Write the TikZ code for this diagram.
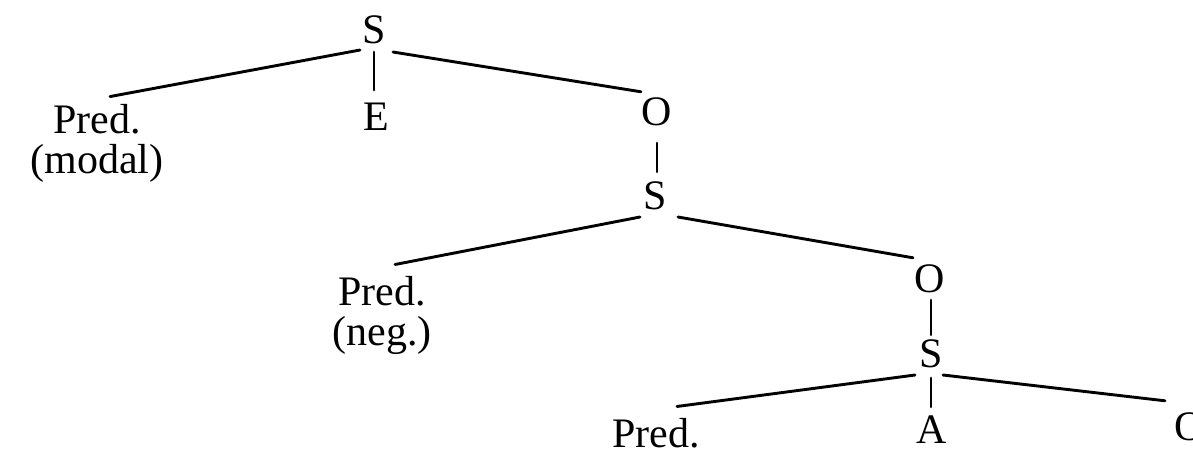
\documentclass[tikz,border=0pt]{standalone}
\usepackage{fontspec}
\setmainfont{Liberation Serif}
\begin{document}
\begin{tikzpicture}[x=0.5pt,y=-0.5pt,
  lbl/.style={inner sep=0pt,font=\fontsize{21}{20}\selectfont},
  multi/.style={lbl,align=center},
  edge/.style={line width=1.45pt,line cap=round}]
\fill[white] (0,0) rectangle (1193,452);
\useasboundingbox (0,0) rectangle (1193,452);
% nodes
\node[lbl,anchor=base] (S1) at (374,43) {S};
\node[lbl,anchor=base] (E) at (376,130) {E};
\node[lbl,anchor=base] (O1) at (657,125) {O};
\node[multi] (predm) at (97,143) {Pred.\\(modal)};
\node[lbl,anchor=base] (S2) at (655,209) {S};
\node[multi] (predn) at (382,315) {Pred.\\(neg.)};
\node[lbl,anchor=base] (O2) at (930,292) {O};
\node[lbl,anchor=base] (S3) at (931,367) {S};
\node[lbl,anchor=base] (predb) at (656,447) {Pred.};
\node[lbl,anchor=base] (A) at (932,443) {A};
\node[lbl,anchor=base] (O3) at (1190,440) {O};
% connectors
\draw[edge] ([shift={(-14,7)}]S1.base) -- ([shift={(13,-7)}]predm.north);
\draw[edge] ([shift={(0,9)}]S1.base) -- ([shift={(-2,-12)}]E.north);
\draw[edge] ([shift={(19,9)}]S1.base) -- ([shift={(-16,-5)}]O1.north);
\draw[edge] ([shift={(0,18)}]O1.base) -- ([shift={(2,-9)}]S2.north);
\draw[edge] ([shift={(-15,8)}]S2.base) -- ([shift={(13,-11)}]predn.north);
\draw[edge] ([shift={(23,8)}]S2.base) -- ([shift={(-17,-6)}]O2.north);
\draw[edge] ([shift={(1,8)}]O2.base) -- ([shift={(0,-4)}]S3.north);
\draw[edge] ([shift={(-16,8)}]S3.base) -- ([shift={(21,-11)}]predb.north);
\draw[edge] ([shift={(0,11)}]S3.base) -- ([shift={(-1,-8)}]A.north);
\draw[edge] ([shift={(12,8)}]S3.base) -- ([shift={(-25,-11)}]O3.north);
\end{tikzpicture}
\end{document}
